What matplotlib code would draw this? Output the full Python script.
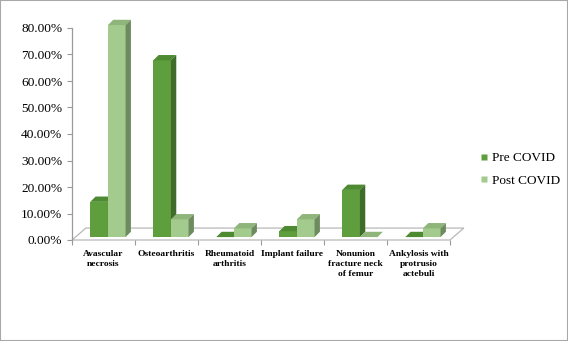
import matplotlib.pyplot as plt
from matplotlib.patches import Polygon, Rectangle
from matplotlib.lines import Line2D

# Data (percent of cases)
categories = ['Avascular\nnecrosis', 'Osteoarthritis', 'Rheumatoid\narthritis',
              'Implant failure', 'Nonunion\nfracture neck\nof femur',
              'Ankylosis with\nprotrusio\nactebuli']
pre_covid = [13.3, 66.7, 0.0, 2.2, 17.8, 0.0]
post_covid = [80.0, 6.7, 3.3, 6.7, 0.0, 3.3]
y_ticks = [0, 10, 20, 30, 40, 50, 60, 70, 80]
series_names = ['Pre COVID', 'Post COVID']

# face colours: front, top, side
pre_cols = ('#5f9e3d', '#4d8a31', '#3f6b2b')
post_cols = ('#a3cb8d', '#8fb57b', '#6d8b5f')

plt.rcParams['font.family'] = ['Liberation Serif', 'DejaVu Serif']

fig = plt.figure(figsize=(5.68, 3.41), dpi=100)
ax = fig.add_axes([72 / 568, 101 / 341, 378 / 568, 212 / 341])
ax.set_xlim(0, len(categories))
ax.set_ylim(0, 80)

# pseudo-3D settings (data units)
floor_dx, floor_dy = 0.22, 4.5
base_dx, base_dy = 0.07, 1.1
depth_dx, depth_dy = 0.085, 2.0
w = 0.28

# floor
n = len(categories)
ax.add_patch(Polygon([(0, 0), (n, 0), (n + floor_dx, floor_dy), (floor_dx, floor_dy)],
                     closed=True, facecolor='white', edgecolor='#b8b8b8',
                     lw=0.9, clip_on=False, zorder=1))


def draw_series(vals, offset, cols):
    xs = [i + 0.5 - w + offset * w + base_dx for i in range(n)]
    ax.bar(xs, vals, width=w, bottom=base_dy, align='edge', color=cols[0],
           edgecolor='none', zorder=3, clip_on=False)
    for x, v in zip(xs, vals):
        top = base_dy + v
        ax.add_patch(Polygon([(x, top), (x + w, top), (x + w + depth_dx, top + depth_dy),
                              (x + depth_dx, top + depth_dy)], closed=True,
                             facecolor=cols[1], edgecolor='none', zorder=3, clip_on=False))
        ax.add_patch(Polygon([(x + w, base_dy), (x + w + depth_dx, base_dy + depth_dy),
                              (x + w + depth_dx, top + depth_dy), (x + w, top)], closed=True,
                             facecolor=cols[2], edgecolor='none', zorder=3, clip_on=False))


draw_series(pre_covid, 0, pre_cols)
draw_series(post_covid, 1, post_cols)

for s in ['top', 'right', 'bottom']:
    ax.spines[s].set_visible(False)
ax.spines['left'].set_color('#9a9a9a')
ax.spines['left'].set_linewidth(0.9)
ax.set_yticks(y_ticks)
ax.set_yticklabels(['%.2f%%' % t for t in y_ticks], fontsize=9.6)
ax.tick_params(axis='y', length=3.5, width=0.8, color='#9a9a9a', pad=3.5)

ax.set_xticks(range(n + 1))
ax.set_xticklabels([])
ax.tick_params(axis='x', which='major', length=3.5, width=0.8, color='#9a9a9a')
ax.set_xticks([i + 0.5 for i in range(n)], minor=True)
ax.set_xticklabels(categories, minor=True, fontsize=6.8, fontweight='bold',
                   linespacing=1.35)
ax.tick_params(axis='x', which='minor', length=0, pad=7)

handles = [Line2D([], [], ls='none', marker='s', markersize=4.5,
                  markerfacecolor=c[0], markeredgecolor='none')
           for c in (pre_cols, post_cols)]
fig.legend(handles, series_names, loc='center left', bbox_to_anchor=(0.845, 0.503),
           frameon=False, fontsize=9.5, handlelength=0.6, handletextpad=0.3,
           labelspacing=0.8, borderpad=0, borderaxespad=0)

fig.patches.append(Rectangle((0, 0), 1, 1, transform=fig.transFigure, fill=False,
                             edgecolor='#a8a8a8', lw=1.5))

fig.savefig('out.png', dpi=100)
